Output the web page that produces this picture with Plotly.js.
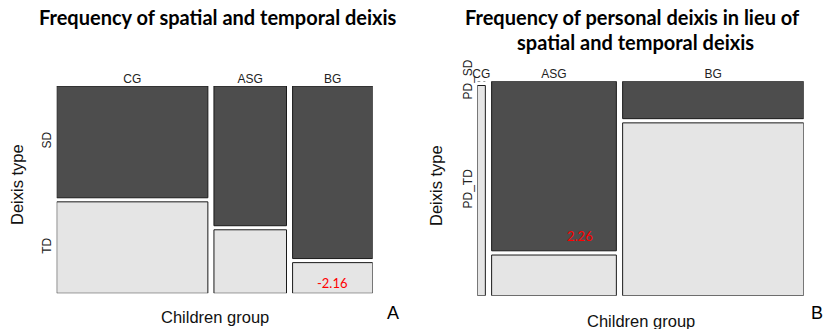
<!DOCTYPE html>
<html>
<head>
<meta charset="utf-8">
<script src="https://cdn.plot.ly/plotly-3.0.1.min.js"></script>
<style>html,body{margin:0;padding:0;background:#fff;}#chart{width:826px;height:329px;}</style>
</head>
<body>
<div id="chart"></div>
<script>
// ---- data (counts read from tile proportions) ----
const groups = ['CG', 'ASG', 'BG'];
const typesA = ['SD', 'TD'];
const typesB = ['PD_SD', 'PD_TD'];
const countsA_SD = [55, 33, 45];
const countsA_TD = [45, 15, 8];
const countsB_SD = [0, 25, 8];
const countsB_TD = [2, 6, 37];
const residA_TD = [null, null, -2.16];
const residB_SD = [null, 2.26, null];

const titleA = 'Frequency of spatial and temporal deixis';
const titleB1 = 'Frequency of personal deixis in lieu of';
const titleB2 = 'spatial and temporal deixis';
const xTitle = 'Children group';
const yTitle = 'Deixis type';

// ---- styling ----
const W = 826, H = 329;
const DARK = '#4d4d4d', LIGHT = '#e5e5e5', EDGE = '#1a1a1a';
const px = v => v / W;
const py = v => 1 - v / H;
const GX = 0.02, GY = 0.02;
const SANS = '"Liberation Sans", Arial, sans-serif';

function mosaic(sd, td) {
  const tot = sd.map((s, i) => s + td[i]);
  const N = tot.reduce((a, b) => a + b, 0);
  let cur = 0;
  const cx = [], w = [], tdH = [], sdB = [], sdH = [];
  tot.forEach((t, i) => {
    const wi = t / N;
    cx.push(cur + wi / 2); w.push(wi);
    const pTD = td[i] / t, pSD = sd[i] / t;
    tdH.push(pTD); sdB.push(pTD + GY); sdH.push(pSD);
    cur += wi + GX;
  });
  return {cx, w, tdH, sdB, sdH, xmax: cur - GX, ymax: 1 + GY};
}

function barTraces(m, xa, ya, names) {
  const sdIdx = m.sdH.map((h, i) => i).filter(i => m.sdH[i] > 0);
  const tdIdx = m.tdH.map((h, i) => i).filter(i => m.tdH[i] > 0);
  return [
    {type: 'bar', xaxis: xa, yaxis: ya, name: names[0],
     x: sdIdx.map(i => m.cx[i]), width: sdIdx.map(i => m.w[i]),
     base: sdIdx.map(i => m.sdB[i]), y: sdIdx.map(i => m.sdH[i]),
     marker: {color: DARK, line: {color: EDGE, width: 1}}, hoverinfo: 'skip'},
    {type: 'bar', xaxis: xa, yaxis: ya, name: names[1],
     x: tdIdx.map(i => m.cx[i]), width: tdIdx.map(i => m.w[i]),
     base: tdIdx.map(i => 0), y: tdIdx.map(i => m.tdH[i]),
     marker: {color: LIGHT, line: {color: EDGE, width: 1}}, hoverinfo: 'skip'}
  ];
}

const mA = mosaic(countsA_SD, countsA_TD);
const mB = mosaic(countsB_SD, countsB_TD);

const traces = [...barTraces(mA, 'x', 'y', typesA), ...barTraces(mB, 'x2', 'y2', typesB)];

// dotted marker for zero-count cells
countsB_SD.forEach((c, i) => {
  if (c === 0) {
    traces.push({type: 'scatter', mode: 'lines', xaxis: 'x2', yaxis: 'y2',
      x: [mB.cx[i] - mB.w[i] / 2, mB.cx[i] + mB.w[i] / 2], y: [mB.ymax, mB.ymax],
      line: {color: '#555', width: 1, dash: 'dot'}, hoverinfo: 'skip'});
  }
});

const tickFont = {family: SANS, size: 12, color: '#222'};
function xAxis(m, dom) {
  return {domain: dom, range: [0, m.xmax], side: 'top', showgrid: false, zeroline: false,
    showline: false, ticks: '', tickvals: m.cx, ticktext: groups, tickfont: tickFont,
    ticklabelstandoff: 0, fixedrange: true};
}
function yAxis(m, dom, labels, xa) {
  // labels follow the first column's cells
  const yv = [m.sdB[0] + m.sdH[0] / 2, m.tdH[0] / 2];
  return {domain: dom, range: [0, m.ymax], anchor: xa, showgrid: false, zeroline: false,
    showline: false, ticks: '', tickvals: yv, ticktext: labels, tickangle: -90,
    tickfont: tickFont, ticklabelstandoff: 2, fixedrange: true};
}

const titleFont = {family: 'Lato, "Noto Sans", sans-serif', size: 20, color: '#000', weight: 'bold'};
const axFont = {family: SANS, size: 16.5, color: '#111'};
const redFont = {family: 'Lato, "Noto Sans", sans-serif', size: 13, color: '#ff0000'};

const ann = [
  {text: '<b>' + titleA + '</b>', x: px(218.3), y: py(16.7), xref: 'paper', yref: 'paper', showarrow: false, font: titleFont, xanchor: 'center', yanchor: 'middle'},
  {text: '<b>' + titleB1 + '</b>', x: px(632.5), y: py(16.7), xref: 'paper', yref: 'paper', showarrow: false, font: titleFont, xanchor: 'center', yanchor: 'middle'},
  {text: '<b>' + titleB2 + '</b>', x: px(635), y: py(41.7), xref: 'paper', yref: 'paper', showarrow: false, font: titleFont, xanchor: 'center', yanchor: 'middle'},
  {text: xTitle, x: px(215), y: py(317.3), xref: 'paper', yref: 'paper', showarrow: false, font: axFont, xanchor: 'center', yanchor: 'middle'},
  {text: xTitle, x: px(641.3), y: py(320.5), xref: 'paper', yref: 'paper', showarrow: false, font: axFont, xanchor: 'center', yanchor: 'middle'},
  {text: yTitle, x: px(17), y: py(185), xref: 'paper', yref: 'paper', showarrow: false, font: axFont, textangle: -90, xanchor: 'center', yanchor: 'middle'},
  {text: yTitle, x: px(436), y: py(185), xref: 'paper', yref: 'paper', showarrow: false, font: axFont, textangle: -90, xanchor: 'center', yanchor: 'middle'},
  {text: 'A', x: px(392.7), y: py(313.3), xref: 'paper', yref: 'paper', showarrow: false, font: {family: SANS, size: 18, color: '#000'}, xanchor: 'center', yanchor: 'middle'},
  {text: 'B', x: px(825), y: py(313.3), xref: 'paper', yref: 'paper', showarrow: false, font: {family: SANS, size: 18, color: '#000'}, xanchor: 'right', yanchor: 'middle'}
];

residA_TD.forEach((r, i) => {
  if (r !== null) ann.push({text: r.toFixed(2), xref: 'x', yref: 'y', x: mA.cx[i], y: mA.tdH[i] * 0.33,
    showarrow: false, font: redFont, xanchor: 'center', yanchor: 'middle'});
});
residB_SD.forEach((r, i) => {
  if (r !== null) ann.push({text: r.toFixed(2), xref: 'x2', yref: 'y2', x: mB.cx[i] - mB.w[i] / 2 + mB.w[i] * 0.71,
    y: mB.sdB[i] + mB.sdH[i] * 0.09, showarrow: false, font: redFont, xanchor: 'center', yanchor: 'middle'});
});

const layout = {
  width: W, height: H, margin: {l: 0, r: 0, t: 0, b: 0},
  paper_bgcolor: '#fff', plot_bgcolor: 'rgba(0,0,0,0)',
  font: {family: SANS},
  showlegend: false, barmode: 'overlay',
  xaxis: xAxis(mA, [px(56.7), px(372.7)]),
  yaxis: yAxis(mA, [py(293.3), py(86)], typesA, 'x'),
  xaxis2: Object.assign(xAxis(mB, [px(477.3), px(803.7)]), {anchor: 'y2'}),
  yaxis2: yAxis(mB, [py(295.7), py(81.3)], typesB, 'x2'),
  annotations: ann
};
layout.xaxis.anchor = 'y';

Plotly.newPlot('chart', traces, layout, {displayModeBar: false, staticPlot: true});
</script>
</body>
</html>
